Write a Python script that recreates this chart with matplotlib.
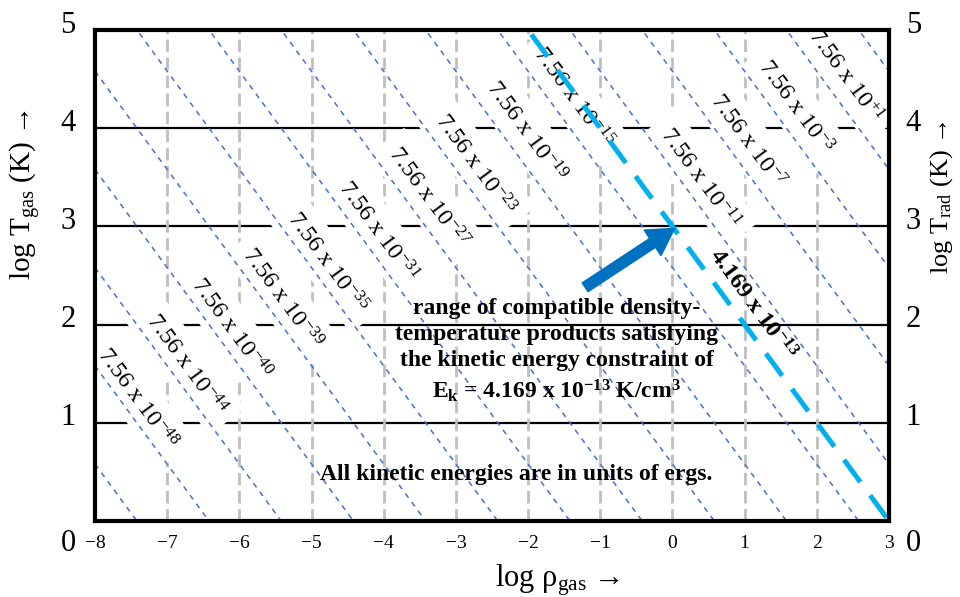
import matplotlib
matplotlib.use("Agg")
import matplotlib.pyplot as plt
import matplotlib.transforms as mtransforms
import numpy as np

plt.rcParams['font.family'] = ['Liberation Serif', 'DejaVu Serif']
plt.rcParams['mathtext.fontset'] = 'custom'
plt.rcParams['mathtext.rm'] = 'Liberation Serif'
plt.rcParams['mathtext.it'] = 'Liberation Serif:italic'
plt.rcParams['mathtext.bf'] = 'Liberation Serif:bold'

# ---- data ----
x_ticks = [-8, -7, -6, -5, -4, -3, -2, -1, 0, 1, 2, 3]
y_ticks = [0, 1, 2, 3, 4, 5]
hline_y = [1, 2, 3, 4]
vline_x = [-7, -6, -5, -4, -3, -2, -1, 0, 1, 2]
# constant log(rho*T) lines: log T = c - log rho
blue_c = [-7.42, -6.42, -5.42, -4.42, -3.42, -2.42, -1.42, -0.42,
          0.58, 1.58, 2.58, 3.58, 4.58, 5.58, 6.58, 7.58]
cyan_c = 3.0
label_exp = ['-48', '-44', '-40', '-39', '-35', '-31', '-27', '-23',
             '-19', '-15', '-11', '-7', '-3', '+1']
label_x = [-7.42, -6.75, -6.12, -5.41, -4.79, -4.09, -3.39, -2.74,
           -2.04, -1.38, 0.38, 1.04, 1.70, 2.39]
label_y = [1.25, 1.59, 1.96, 2.27, 2.63, 2.95, 3.29, 3.63,
           3.97, 4.31, 3.49, 3.87, 4.21, 4.53]
ek_label_pos = (1.10, 2.20)
arrow_tail = (-1.21, 2.38)
arrow_tip = (0.03, 2.98)
note_pos = (-1.60, 1.73)
units_pos = (-2.16, 0.47)

fig = plt.figure(figsize=(9.6, 5.97), dpi=100)
ax = fig.add_axes([95/960, 76/597, (889-95)/960, (521-30)/597])
ax.set_xlim(-8, 3)
ax.set_ylim(0, 5)

# grid-like lines
for yv in hline_y:
    ax.axhline(yv, color='black', lw=1.6, zorder=1)
for xv in vline_x:
    ax.axvline(xv, color='#BFBFBF', lw=2.0, ls=(0, (4.5, 2)), zorder=1)

xx = np.array([-8.0, 3.0])
for c in blue_c:
    ax.plot(xx, c - xx, color='#4472C4', lw=1.1, ls=(0, (3.5, 3.5)), zorder=4)

ax.plot(xx, cyan_c - xx, color='#00B0F0', lw=3.6, ls=(0, (5.5, 3.3)), zorder=6)

# labels along lines
for e, lx, ly in zip(label_exp, label_x, label_y):
    ax.text(lx, ly, r'7.56 x 10$^{\mathrm{' + e.replace('-', '−') + '}}$',
            fontsize=17.5, rotation=-45, transform_rotates_text=True,
            rotation_mode='anchor', ha='center', va='center',
            bbox=dict(facecolor='white', edgecolor='none', boxstyle='square,pad=0.45'),
            zorder=3)

ax.text(ek_label_pos[0], ek_label_pos[1], r'4.169 x 10$^{\mathbf{−13}}$',
        fontsize=17.5, fontweight='bold', rotation=-45, transform_rotates_text=True,
        rotation_mode='anchor', ha='center', va='center', zorder=5)

ax.annotate('', xy=arrow_tip, xytext=arrow_tail,
            arrowprops=dict(arrowstyle='simple,head_length=0.95,head_width=1.1,tail_width=0.38',
                            color='#0070C0', mutation_scale=20, shrinkA=0, shrinkB=0),
            zorder=7)

ax.text(note_pos[0], note_pos[1],
        'range of compatible density-\ntemperature products satisfying\nthe kinetic energy constraint of\n'
        r'E$_{\mathbf{k}}$ = 4.169 x 10$^{\mathbf{−13}}$ K/cm$^{\mathbf{3}}$',
        fontsize=17, fontweight='bold', ha='center', va='center', linespacing=1.32, zorder=8)

ax.text(units_pos[0], units_pos[1], 'All kinetic energies are in units of ergs.',
        fontsize=17, fontweight='bold', ha='center', va='center', zorder=8)

# axes / ticks
for s in ax.spines.values():
    s.set_linewidth(3.0)
    s.set_zorder(10)

ax2 = ax.twinx()
ax2.set_ylim(0, 5)
ax2.set_yticks([])
for s in ax2.spines.values():
    s.set_visible(False)

ax.set_xticks(x_ticks)
ax.set_xticklabels([str(v).replace('-', '−') for v in x_ticks])
ax.set_yticks(y_ticks)
ax.set_yticklabels([str(v) for v in y_ticks])
ax.tick_params(axis='x', length=0, pad=10, labelsize=14)
ax.tick_params(axis='y', which='both', length=0, labelsize=22, left=False, right=False,
               labelleft=True, labelright=True)
ticks = ax.yaxis.get_major_ticks()
for t in ticks:
    t.set_pad(14)

ax.set_xlabel(r'log ρ$_{\mathrm{gas}}$ →', fontsize=22)
ax.xaxis.set_label_coords(0.583, -0.085)
ax.set_ylabel(r'log T$_{\mathrm{gas}}$ (K) →', fontsize=21, va='center')
ax.yaxis.set_label_coords(-0.088, 0.664)
ax2.set_ylabel(r'log T$_{\mathrm{rad}}$ (K) →', fontsize=19, va='center', rotation=90)
ax2.yaxis.set_label_coords(1.066, 0.66)

fig.canvas.draw()
for val, t in zip(y_ticks, ticks):
    dy = -14 / 72 if val == 0 else 6 / 72
    off1 = mtransforms.ScaledTranslation(0, dy, fig.dpi_scale_trans)
    off2 = mtransforms.ScaledTranslation(-2 / 72, dy, fig.dpi_scale_trans)
    t.label1.set_transform(t.label1.get_transform() + off1)
    t.label2.set_transform(t.label2.get_transform() + off2)

fig.savefig('out.png', dpi=100)
